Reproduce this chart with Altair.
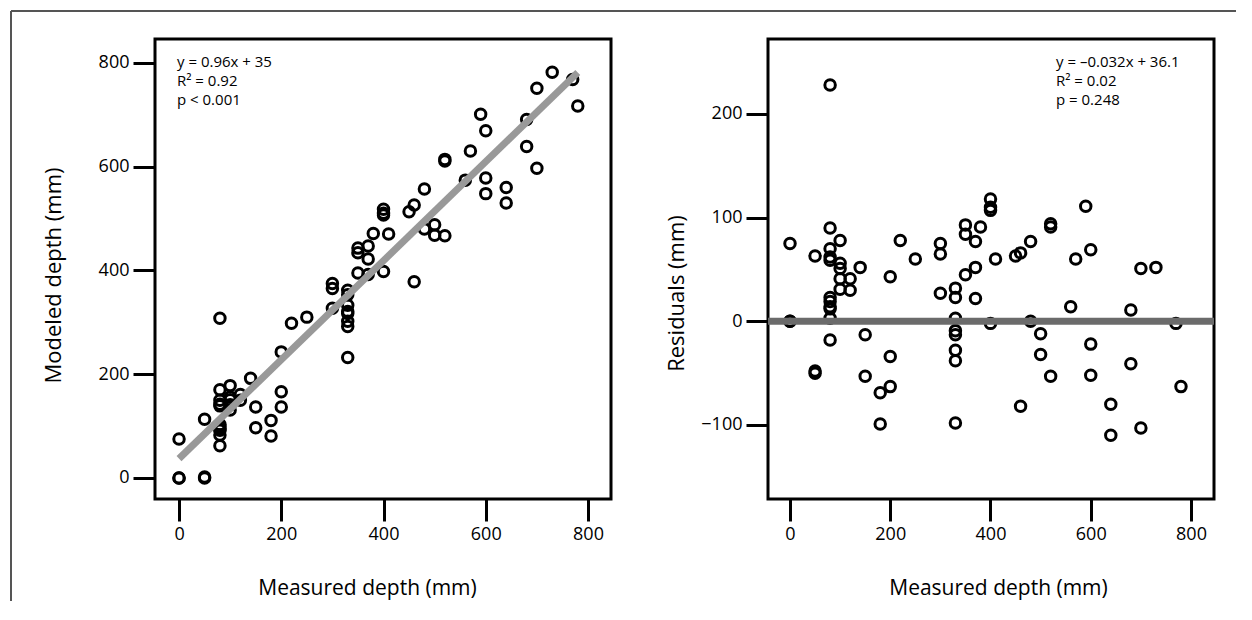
import altair as alt
import pandas as pd

# Measured depth (mm), modeled depth (mm) and residuals (mm)
measured = [0, 0, 0, 50, 50, 50, 80, 80, 80, 80, 80, 80, 80, 80, 80, 80, 80,
            100, 100, 100, 100, 100, 120, 120, 140, 150, 150, 180, 180, 200, 200, 200,
            220, 250, 300, 300, 300, 330, 330, 330, 330, 330, 330, 330, 330,
            350, 350, 350, 370, 370, 370, 380, 400, 400, 400, 400, 410, 450, 460, 460,
            480, 480, 500, 500, 520, 520, 520, 560, 570, 590, 600, 600, 600, 640, 640,
            680, 680, 700, 700, 730, 770, 780]
modeled = [75, 0, 0, 113, 2, 0, 308, 170, 150, 142, 139, 103, 99, 94, 92, 83, 62,
           178, 156, 151, 141, 131, 161, 150, 192, 137, 97, 111, 81, 243, 166, 137,
           298, 310, 375, 365, 327, 362, 353, 333, 321, 317, 302, 292, 232,
           443, 434, 395, 447, 422, 392, 471, 518, 510, 507, 398, 470, 513, 526, 378,
           557, 480, 488, 468, 614, 611, 467, 574, 630, 701, 669, 578, 548, 560, 530,
           691, 639, 751, 597, 782, 768, 717]
residual = [75, 0, 0, 63, -48, -50, 228, 90, 70, 62, 59, 23, 19, 14, 12, 3, -18,
            78, 56, 51, 41, 31, 41, 30, 52, -13, -53, -69, -99, 43, -34, -63,
            78, 60, 75, 65, 27, 32, 23, 3, -9, -13, -28, -38, -98,
            93, 84, 45, 77, 52, 22, 91, 118, 110, 107, -2, 60, 63, 66, -82,
            77, 0, -12, -32, 94, 91, -53, 14, 60, 111, 69, -22, -52, -80, -110,
            11, -41, 51, -103, 52, -2, -63]

x_ticks = [0, 200, 400, 600, 800]
y_ticks_left = [0, 200, 400, 600, 800]
y_ticks_right = [-100, 0, 100, 200]

note_left = ["y = 0.96x + 35", "R² = 0.92", "p < 0.001"]
note_right = ["y = \u20130.032x + 36.1", "R² = 0.02", "p = 0.248"]

FONT = "Open Sans"
W1, W2, H = 456, 446, 460
GAP = 157

df = pd.DataFrame({"measured": measured, "modeled": modeled, "residual": residual})
one = pd.DataFrame({"k": [0]})

border = "#555555"
pt_size = 110
pt_stroke = 3

# ---------------- left panel ----------------
xl = alt.X("measured:Q",
           scale=alt.Scale(domain=[-47, 845], nice=False, zero=False),
           axis=alt.Axis(values=x_ticks, title="Measured depth (mm)",
                         titleX=212, titleY=95, titleBaseline="alphabetic",
                         titleAlign="center"))
yl = alt.Y("modeled:Q",
           scale=alt.Scale(domain=[-40.5, 846], nice=False, zero=False),
           axis=alt.Axis(values=y_ticks_left, title="Modeled depth (mm)",
                         titleX=-102, titleY=236, titleBaseline="middle",
                         titleAlign="center", titleAngle=270, titleFontSize=22))

pts_l = alt.Chart(df).mark_point(shape="circle", filled=False, size=pt_size,
                                 strokeWidth=pt_stroke, color="black", opacity=1).encode(x=xl, y=yl)
fit_l = alt.Chart(df).transform_regression("measured", "modeled").mark_line(
    color="#999999", strokeWidth=7).encode(x="measured:Q", y="modeled:Q")
txt_l = alt.Chart(one).mark_text(align="left", baseline="alphabetic", fontSize=15,
                                 lineHeight=19, font=FONT, color="black").encode(
    x=alt.value(22), y=alt.value(28), text=alt.value(note_left))
bv = alt.Chart(one).mark_rule(color=border, strokeWidth=2).encode(
    x=alt.value(-144), y=alt.value(-28), y2=alt.value(562))
bh = alt.Chart(one).mark_rule(color=border, strokeWidth=2).encode(
    x=alt.value(-144), x2=alt.value(1081), y=alt.value(-28))

left = alt.layer(bv, bh, pts_l, fit_l, txt_l).properties(width=W1, height=H)

# ---------------- right panel ----------------
xr = alt.X("measured:Q",
           scale=alt.Scale(domain=[-43.9, 845.9], nice=False, zero=False),
           axis=alt.Axis(values=x_ticks, title="Measured depth (mm)",
                         titleX=230, titleY=95, titleBaseline="alphabetic",
                         titleAlign="center"))
yr = alt.Y("residual:Q",
           scale=alt.Scale(domain=[-171.4, 272.3], nice=False, zero=False),
           axis=alt.Axis(values=y_ticks_right, title="Residuals (mm)",
                         titleX=-92, titleY=254, titleBaseline="middle",
                         titleAlign="center", titleAngle=270, titleFontSize=22))

pts_r = alt.Chart(df).mark_point(shape="circle", filled=False, size=pt_size,
                                 strokeWidth=pt_stroke, color="black", opacity=1).encode(x=xr, y=yr)
zero_r = alt.Chart(one).mark_rule(color="#6b6b6b", strokeWidth=7).encode(y=alt.datum(0))
txt_r = alt.Chart(one).mark_text(align="left", baseline="alphabetic", fontSize=15,
                                 lineHeight=19, font=FONT, color="black").encode(
    x=alt.value(288), y=alt.value(28), text=alt.value(note_right))

right = alt.layer(pts_r, zero_r, txt_r).properties(width=W2, height=H)

chart = alt.hconcat(left, right, spacing=GAP, bounds="flush").properties(padding=0).configure_view(
    stroke="black", strokeWidth=3
).configure_axis(
    domain=False, grid=False, tickColor="black", tickWidth=3, tickSize=22,
    labelFont=FONT, labelFontSize=18, labelColor="black", labelPadding=4,
    labelFlush=False,
    titleFont=FONT, titleFontSize=21, titleColor="black", titleFontWeight="normal"
)

chart.save("out.html", embed_options={"renderer": "svg", "actions": False})
